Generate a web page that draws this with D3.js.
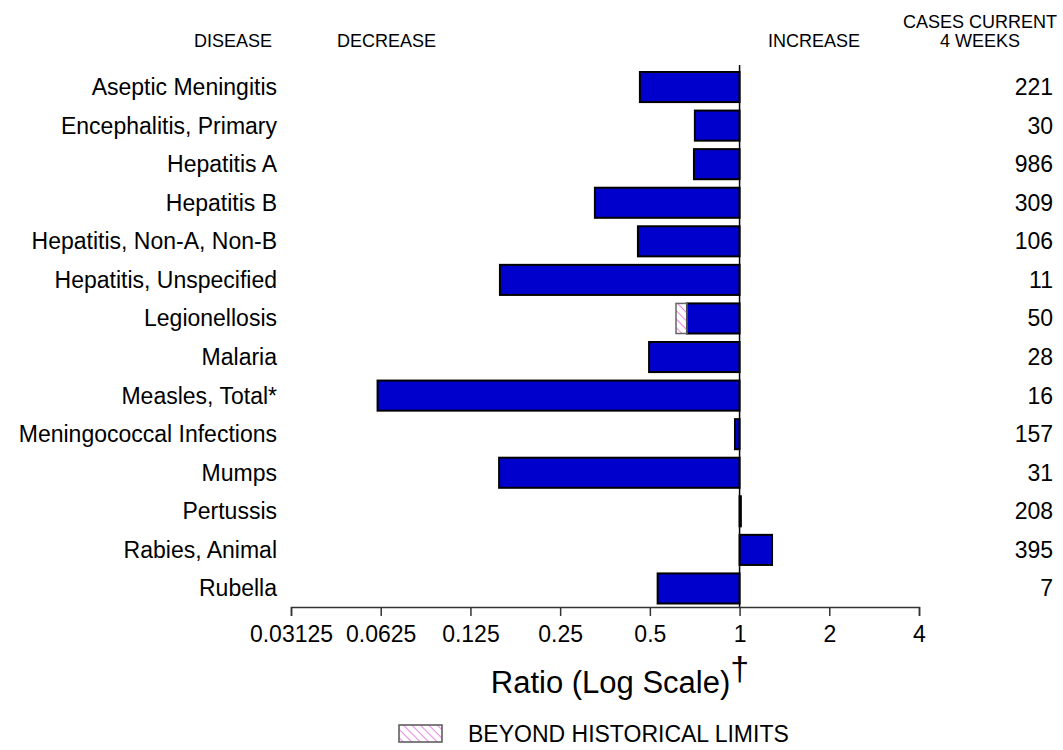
<!DOCTYPE html>
<html>
<head>
<meta charset="utf-8">
<script src="https://cdn.jsdelivr.net/npm/d3@7"></script>
<style>
  body { margin: 0; background: #fff; }
  text { font-family: "Liberation Sans", Arial, sans-serif; fill: #000; }
</style>
</head>
<body>
<div id="chart"></div>
<script>
// diseases, ratio (current 4 weeks vs historical), cases
var diseases = ["Aseptic Meningitis", "Encephalitis, Primary", "Hepatitis A", "Hepatitis B",
  "Hepatitis, Non-A, Non-B", "Hepatitis, Unspecified", "Legionellosis", "Malaria",
  "Measles, Total*", "Meningococcal Infections", "Mumps", "Pertussis", "Rabies, Animal", "Rubella"]
var ratios = [0.463, 0.708, 0.703, 0.327, 0.456, 0.157, 0.612, 0.497, 0.061, 0.965, 0.156, 1.01, 1.285, 0.531]
// where the historical limit sits (part past it is hatched), null = within limits
var limits = [null, null, null, null, null, null, 0.666, null, null, null, null, null, null, null]
var cases = [221, 30, 986, 309, 106, 11, 50, 28, 16, 157, 31, 208, 395, 7]
var tickValues = [0.03125, 0.0625, 0.125, 0.25, 0.5, 1, 2, 4]

var width = 1063, height = 750
var blue = "#0000cc", magenta = "#dd44dd"

var svg = d3.select("#chart").append("svg")
  .attr("width", width)
  .attr("height", height)

// hatch pattern for beyond historical limits ( \\\ direction )
var defs = svg.append("defs")
defs.append("pattern")
  .attr("id", "hatch")
  .attr("patternUnits", "userSpaceOnUse")
  .attr("width", 6).attr("height", 6)
  .attr("patternTransform", "rotate(-45)")
  .append("line")
    .attr("x1", 0).attr("y1", 0).attr("x2", 0).attr("y2", 6)
    .attr("stroke", magenta).attr("stroke-width", 1.3)

var x = d3.scaleLog().base(2)
  .domain([0.03125, 4])
  .range([291, 919])

var y = d3.scaleBand()
  .domain(diseases)
  .range([67.75, 607.75])
  .paddingInner(0.22)
  .paddingOuter(0.11)

// headers
var head = svg.append("g").style("font-size", "18px")
head.append("text").attr("x", 194).attr("y", 47).text("DISEASE")
head.append("text").attr("x", 337).attr("y", 47).text("DECREASE")
head.append("text").attr("x", 768).attr("y", 47).text("INCREASE")
head.append("text").attr("x", 980).attr("y", 28).attr("text-anchor", "middle").text("CASES CURRENT")
head.append("text").attr("x", 980).attr("y", 47).attr("text-anchor", "middle").text("4 WEEKS")

var rows = diseases.map(function(d, i) {
  return {name: d, ratio: ratios[i], limit: limits[i], cases: cases[i]}
})

// bars
svg.append("g").selectAll("rect")
  .data(rows)
  .enter()
  .append("rect")
    .attr("x", function(d) { return Math.min(x(d.limit || d.ratio), x(1)) })
    .attr("y", function(d) { return y(d.name) })
    .attr("width", function(d) { return Math.max(Math.abs(x(d.limit || d.ratio) - x(1)), 1) })
    .attr("height", y.bandwidth())
    .attr("fill", blue)
    .attr("stroke", "#000")
    .attr("stroke-width", 2)

// hatched part past the historical limit
svg.append("g").selectAll("rect")
  .data(rows.filter(function(d) { return d.limit != null }))
  .enter()
  .append("rect")
    .attr("x", function(d) { return x(d.ratio) })
    .attr("y", function(d) { return y(d.name) })
    .attr("width", function(d) { return x(d.limit) - x(d.ratio) })
    .attr("height", y.bandwidth())
    .attr("fill", "url(#hatch)")
    .attr("stroke", "#666")
    .attr("stroke-width", 1.5)

// reference line at ratio 1
svg.append("line")
  .attr("x1", x(1)).attr("x2", x(1))
  .attr("y1", 65).attr("y2", 607)
  .attr("stroke", "#000")
  .attr("stroke-width", 1.5)

// labels
svg.append("g").selectAll("text")
  .data(rows)
  .enter()
  .append("text")
    .attr("x", 277)
    .attr("y", function(d) { return y(d.name) + y.bandwidth() / 2 + 8 })
    .attr("text-anchor", "end")
    .style("font-size", "23px")
    .text(function(d) { return d.name })

svg.append("g").selectAll("text")
  .data(rows)
  .enter()
  .append("text")
    .attr("x", 1053)
    .attr("y", function(d) { return y(d.name) + y.bandwidth() / 2 + 8 })
    .attr("text-anchor", "end")
    .style("font-size", "23px")
    .text(function(d) { return d.cases })

// x axis
var axis = svg.append("g")
  .attr("transform", "translate(0,607)")
  .call(d3.axisBottom(x).tickValues(tickValues).tickFormat(function(d) { return String(d) }).tickSizeOuter(0).tickSize(9).tickPadding(10))
axis.select(".domain").attr("stroke", "#333").attr("stroke-width", 1.5)
axis.selectAll(".tick line").attr("stroke", "#333").attr("stroke-width", 1.5)
axis.selectAll(".tick text").style("font-size", "23px").attr("font-family", null)

var title = svg.append("text")
  .attr("x", 620).attr("y", 693)
  .attr("text-anchor", "middle")
  .style("font-size", "31px")
title.append("tspan").text("Ratio (Log Scale)")
title.append("tspan").attr("dy", -13).style("font-size", "34px").text("†")

// legend
svg.append("rect")
  .attr("x", 399).attr("y", 725)
  .attr("width", 43).attr("height", 17)
  .attr("fill", "url(#hatch)")
  .attr("stroke", "#555")
  .attr("stroke-width", 1.5)
svg.append("text")
  .attr("x", 468).attr("y", 742)
  .style("font-size", "23px")
  .text("BEYOND HISTORICAL LIMITS")
</script>
</body>
</html>
